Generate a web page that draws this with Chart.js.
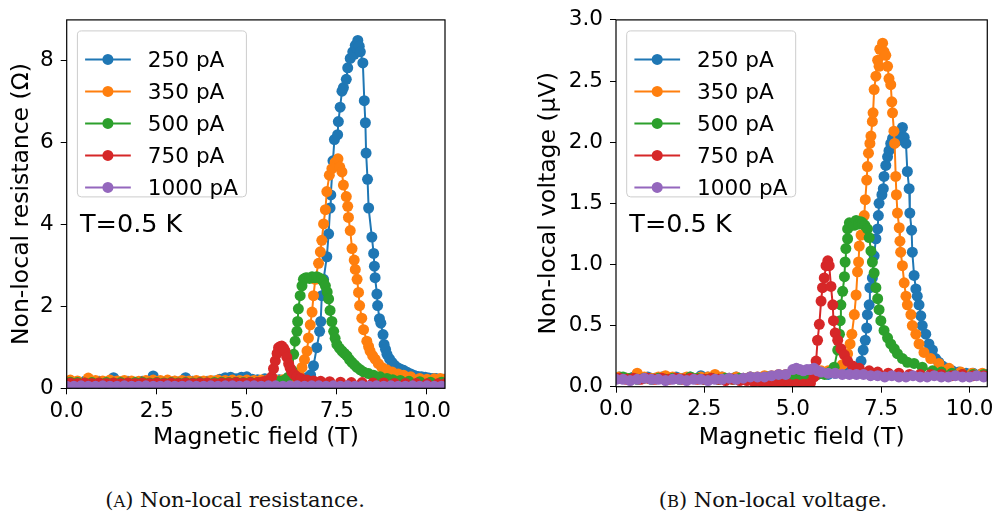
<!DOCTYPE html>
<html lang="en">
<head>
  <meta charset="UTF-8" />
  <title>Non-local resistance and voltage</title>
  <script src="https://cdn.jsdelivr.net/npm/chart.js"></script>
  <style>
    body {
      margin: 0;
      padding: 0;
      background: #ffffff;
    }

    #wrap {
      position: relative;
      width: 998px;
      height: 515px;
      background: #ffffff;
      overflow: hidden;
    }

    canvas {
      position: absolute;
      top: 0;
    }

    .caption {
      position: absolute;
      top: 490px;
      width: 400px;
      text-align: center;
      font-family: 'DejaVu Serif', serif;
      font-size: 21px;
      line-height: 21px;
      color: #111;
    }

    .caption small {
      font-size: 0.78em;
    }
  </style>
</head>
<body>
  <div id="wrap">
    <canvas id="resChart" width="470" height="460" style="left:0px"></canvas>
    <canvas id="voltChart" width="468" height="460" style="left:530px"></canvas>
    <div class="caption" style="left:35px">(<small>A</small>) Non-local resistance.</div>
    <div class="caption" style="left:573px">(<small>B</small>) Non-local voltage.</div>
  </div>

  <script>
  // tick labels and legend labels
  const fieldTicks = [0, 2.5, 5, 7.5, 10];
  const resTicks = [0, 2, 4, 6, 8];
  const voltTicks = [0, 0.5, 1, 1.5, 2, 2.5, 3];
  const currents = ['250 pA', '350 pA', '500 pA', '750 pA', '1000 pA'];
  const colors = ['#1f77b4', '#ff7f0e', '#2ca02c', '#d62728', '#9467bd'];

  // (A) non-local resistance, [field T, resistance Ohm]
  const res250 = [
    [0.1,0.17],[0.3,0.15],[0.5,0.17],[0.7,0.16],[0.9,0.17],[1.1,0.15],[1.3,0.26],[1.5,0.16],[1.7,0.17],[1.9,0.15],
    [2.1,0.17],[2.25,0.16],[2.4,0.3],[2.6,0.17],[2.8,0.16],[3.0,0.17],[3.15,0.16],[3.3,0.26],[3.5,0.17],[3.7,0.16],
    [3.9,0.17],[4.1,0.18],[4.25,0.22],[4.4,0.26],[4.55,0.27],[4.7,0.23],[4.85,0.27],[5.0,0.28],[5.15,0.22],[5.3,0.21],
    [5.5,0.23],[5.7,0.25],[5.9,0.21],[6.1,0.22],[6.3,0.21],[6.5,0.23],[6.65,0.26],[6.77,0.33],
    [6.85,0.55],[6.94,0.99],[7.02,1.39],[7.05,1.63],[7.08,2.26],[7.13,2.66],[7.22,3.21],[7.27,3.77],[7.31,4.4],[7.33,4.72],
    [7.39,5.55],[7.43,6.07],[7.52,6.19],[7.54,6.51],[7.59,6.86],[7.64,7.25],[7.68,7.34],[7.76,7.54],[7.8,7.82],[7.87,8.05],
    [7.94,8.21],[7.98,8.15],[8.01,8.37],[8.05,8.3],[8.08,8.49],[8.12,8.35],[8.15,8.21],[8.22,7.94],[8.26,7.02],[8.29,6.48],
    [8.31,5.74],[8.35,5.1],[8.38,4.4],[8.47,3.69],[8.52,3.29],[8.54,2.98],[8.56,2.7],[8.61,2.3],[8.63,2.02],[8.68,1.7],
    [8.72,1.59],[8.78,1.31],[8.81,1.07],[8.85,0.95],[8.89,0.83],[8.96,0.72],[9.03,0.63],[9.1,0.56],[9.17,0.51],[9.26,0.47],
    [9.35,0.44],[9.45,0.39],[9.55,0.35],[9.65,0.31],[9.75,0.29],[9.85,0.28],[9.95,0.27],[10.05,0.25],[10.15,0.24],
    [10.25,0.24],[10.35,0.22],[10.45,0.22]
  ];
  const res350 = [
    [0.1,0.2],[0.3,0.18],[0.6,0.25],[0.8,0.19],[1.0,0.18],[1.2,0.2],[1.4,0.18],[1.6,0.19],[1.8,0.18],[2.0,0.17],
    [2.2,0.19],[2.4,0.2],[2.6,0.19],[2.8,0.2],[3.0,0.18],[3.2,0.19],[3.4,0.18],[3.6,0.19],[3.8,0.18],[4.0,0.19],
    [4.2,0.2],[4.4,0.19],[4.6,0.2],[4.8,0.19],[5.0,0.2],[5.2,0.19],[5.4,0.2],[5.6,0.21],[5.8,0.2],[6.0,0.21],
    [6.2,0.23],[6.35,0.27],[6.45,0.33],
    [6.53,0.51],[6.6,0.7],[6.67,0.91],[6.71,1.23],[6.76,1.55],[6.81,1.86],[6.85,2.26],[6.9,2.66],[6.99,3.05],[7.04,3.33],
    [7.08,3.61],[7.13,4.01],[7.18,4.36],[7.22,4.8],[7.29,5.2],[7.36,5.36],[7.45,5.51],[7.5,5.45],[7.53,5.6],[7.58,5.4],
    [7.64,5.28],[7.68,4.96],[7.76,4.68],[7.8,4.44],[7.82,4.17],[7.87,3.85],[7.92,3.41],[7.98,3.13],[8.01,2.9],[8.06,2.66],
    [8.1,2.34],[8.13,2.02],[8.19,1.71],[8.24,1.43],[8.33,1.15],[8.38,1.02],[8.42,0.91],[8.49,0.8],[8.56,0.71],[8.65,0.6],
    [8.75,0.51],[8.88,0.45],[9.03,0.4],[9.2,0.35],[9.35,0.32],[9.55,0.28],[9.8,0.24],[10.0,0.22],[10.2,0.23],
    [10.37,0.24],[10.5,0.22]
  ];
  const res500 = [
    [0.1,0.15],[0.3,0.14],[0.5,0.13],[0.7,0.14],[0.9,0.13],[1.1,0.14],[1.3,0.13],[1.5,0.14],[1.7,0.13],[1.9,0.14],
    [2.1,0.15],[2.3,0.13],[2.5,0.14],[2.7,0.13],[2.9,0.14],[3.1,0.13],[3.3,0.14],[3.5,0.13],[3.7,0.14],[3.9,0.13],
    [4.1,0.14],[4.3,0.15],[4.5,0.14],[4.7,0.15],[4.9,0.14],[5.1,0.15],[5.3,0.14],[5.5,0.16],[5.7,0.15],[5.9,0.17],
    [6.05,0.2],[6.15,0.27],
    [6.25,0.44],[6.3,0.83],[6.34,1.15],[6.39,1.39],[6.41,1.63],[6.43,1.94],[6.48,2.26],[6.53,2.5],[6.57,2.66],[6.62,2.69],
    [6.67,2.7],[6.74,2.68],[6.81,2.72],[6.88,2.7],[6.94,2.72],[7.0,2.7],[7.08,2.66],[7.13,2.6],[7.18,2.5],[7.23,2.35],
    [7.27,2.18],[7.31,1.9],[7.36,1.63],[7.41,1.39],[7.45,1.22],[7.5,1.07],[7.57,0.98],[7.64,0.91],[7.71,0.85],[7.78,0.79],
    [7.85,0.7],[7.92,0.63],[7.99,0.57],[8.06,0.51],[8.15,0.45],[8.24,0.4],[8.38,0.36],[8.52,0.32],[8.7,0.28],[8.89,0.24],
    [9.05,0.21],[9.26,0.19],[9.5,0.17],[9.8,0.16],[10.1,0.15],[10.4,0.15]
  ];
  const res750 = [
    [0.1,0.13],[0.3,0.12],[0.5,0.13],[0.7,0.12],[0.9,0.13],[1.1,0.12],[1.3,0.13],[1.5,0.12],[1.7,0.13],[1.9,0.12],
    [2.1,0.13],[2.3,0.12],[2.5,0.13],[2.7,0.12],[2.9,0.13],[3.1,0.12],[3.3,0.13],[3.5,0.12],[3.7,0.13],[3.9,0.13],
    [4.1,0.12],[4.3,0.13],[4.5,0.13],[4.7,0.14],[4.9,0.13],[5.1,0.14],[5.3,0.14],[5.45,0.16],[5.58,0.19],
    [5.69,0.28],[5.74,0.48],[5.79,0.67],[5.84,0.85],[5.88,0.99],[5.93,1.02],[5.97,1.03],[6.02,0.98],[6.06,0.91],[6.11,0.76],
    [6.16,0.6],[6.2,0.5],[6.25,0.4],[6.32,0.33],[6.39,0.28],[6.5,0.24],[6.67,0.2],[6.85,0.18],[7.05,0.17],[7.3,0.16],
    [7.6,0.15],[7.9,0.14],[8.2,0.14],[8.5,0.13],[8.8,0.13],[9.1,0.12],[9.4,0.12],[9.7,0.12],[10.0,0.11],[10.3,0.11],
    [10.5,0.11]
  ];
  const res1000 = [
    [0.0,0.05],[0.2,0.05],[0.4,0.06],[0.6,0.05],[0.8,0.05],[1.0,0.06],[1.2,0.05],[1.4,0.05],[1.6,0.06],[1.8,0.05],
    [2.0,0.05],[2.2,0.06],[2.4,0.05],[2.6,0.05],[2.8,0.06],[3.0,0.05],[3.2,0.05],[3.4,0.06],[3.6,0.05],[3.8,0.05],
    [4.0,0.06],[4.2,0.05],[4.4,0.06],[4.6,0.06],[4.8,0.05],[5.0,0.06],[5.2,0.06],[5.4,0.05],[5.6,0.06],[5.8,0.06],
    [6.0,0.05],[6.2,0.06],[6.4,0.06],[6.6,0.05],[6.8,0.06],[7.0,0.06],[7.2,0.05],[7.4,0.06],[7.6,0.05],[7.8,0.06],
    [8.0,0.05],[8.2,0.06],[8.4,0.05],[8.6,0.06],[8.8,0.05],[9.0,0.06],[9.2,0.05],[9.4,0.05],[9.6,0.06],[9.8,0.05],
    [10.0,0.06],[10.2,0.05],[10.4,0.05]
  ];

  // (B) non-local voltage, [field T, voltage uV]
  const volt250 = [
    [0.1,0.08],[0.3,0.07],[0.5,0.08],[0.7,0.07],[0.9,0.08],[1.1,0.07],[1.3,0.08],[1.5,0.07],[1.7,0.08],[1.9,0.07],
    [2.1,0.08],[2.4,0.09],[2.6,0.08],[2.8,0.07],[3.0,0.08],[3.2,0.07],[3.4,0.08],[3.6,0.07],[3.8,0.08],[4.0,0.07],
    [4.2,0.08],[4.4,0.08],[4.6,0.09],[4.8,0.08],[5.0,0.09],[5.2,0.1],[5.4,0.1],[5.6,0.1],[5.8,0.11],[6.0,0.1],
    [6.2,0.11],[6.4,0.11],[6.6,0.12],[6.8,0.15],
    [6.93,0.21],[6.99,0.3],[7.05,0.38],[7.09,0.48],[7.11,0.59],[7.16,0.67],[7.18,0.81],[7.25,0.89],[7.3,1.07],[7.35,1.21],
    [7.4,1.29],[7.42,1.4],[7.44,1.5],[7.52,1.57],[7.56,1.62],[7.58,1.72],[7.63,1.81],[7.68,1.88],[7.72,1.93],[7.77,1.99],
    [7.82,2.03],[7.91,2.05],[7.96,2.01],[8.01,2.08],[8.06,2.05],[8.1,2.12],[8.15,2.04],[8.2,1.99],[8.24,1.76],[8.29,1.62],
    [8.31,1.42],[8.36,1.28],[8.38,1.1],[8.43,0.91],[8.48,0.8],[8.52,0.74],[8.57,0.67],[8.62,0.58],[8.66,0.5],[8.76,0.43],
    [8.85,0.35],[8.95,0.3],[9.04,0.23],[9.13,0.2],[9.23,0.17],[9.37,0.15],[9.51,0.13],[9.7,0.12],[9.9,0.11],[10.1,0.11],
    [10.3,0.1],[10.5,0.1]
  ];
  const volt350 = [
    [0.1,0.08],[0.3,0.07],[0.6,0.11],[0.8,0.08],[1.0,0.07],[1.2,0.08],[1.4,0.09],[1.6,0.08],[1.8,0.07],[2.0,0.08],
    [2.2,0.07],[2.4,0.08],[2.6,0.08],[2.8,0.1],[3.0,0.08],[3.2,0.07],[3.4,0.08],[3.6,0.07],[3.8,0.08],[4.0,0.08],
    [4.2,0.09],[4.4,0.09],[4.6,0.1],[4.8,0.1],[5.0,0.11],[5.2,0.11],[5.4,0.12],[5.6,0.12],[5.8,0.13],[6.0,0.13],
    [6.2,0.14],[6.4,0.18],
    [6.55,0.27],[6.62,0.35],[6.67,0.43],[6.74,0.59],[6.79,0.75],[6.83,0.94],[6.86,1.02],[6.88,1.15],[6.93,1.24],[7.02,1.4],
    [7.05,1.53],[7.09,1.69],[7.11,1.8],[7.14,1.91],[7.18,1.99],[7.21,2.05],[7.25,2.17],[7.27,2.24],[7.3,2.43],[7.35,2.54],
    [7.4,2.67],[7.44,2.62],[7.46,2.76],[7.54,2.81],[7.58,2.74],[7.63,2.71],[7.68,2.62],[7.72,2.52],[7.77,2.47],[7.8,2.33],
    [7.82,2.24],[7.86,2.09],[7.88,1.99],[7.91,1.72],[7.93,1.57],[7.96,1.42],[8.01,1.3],[8.03,1.19],[8.05,1.1],[8.1,0.99],
    [8.15,0.85],[8.2,0.74],[8.24,0.67],[8.34,0.59],[8.38,0.5],[8.48,0.43],[8.57,0.35],[8.71,0.28],[8.9,0.23],[9.13,0.19],
    [9.42,0.15],[9.75,0.12],[10.07,0.11],[10.36,0.11]
  ];
  const volt500 = [
    [0.2,0.08],[0.4,0.07],[0.6,0.06],[0.8,0.07],[1.0,0.06],[1.2,0.07],[1.4,0.06],[1.6,0.07],[1.8,0.06],[2.1,0.08],
    [2.3,0.07],[2.5,0.06],[2.7,0.07],[2.9,0.06],[3.1,0.07],[3.3,0.06],[3.5,0.07],[3.7,0.06],[3.9,0.07],[4.1,0.07],
    [4.3,0.08],[4.5,0.08],[4.7,0.07],[4.9,0.08],[5.1,0.08],[5.3,0.09],[5.5,0.09],[5.7,0.1],[5.9,0.1],[6.05,0.12],
    [6.17,0.16],[6.27,0.3],[6.32,0.43],[6.34,0.54],[6.36,0.67],[6.41,0.78],[6.46,0.9],[6.48,1.02],[6.5,1.13],[6.55,1.21],
    [6.55,1.29],[6.6,1.34],[6.68,1.33],[6.73,1.32],[6.79,1.36],[6.86,1.33],[6.92,1.35],[6.97,1.34],[7.04,1.32],[7.11,1.29],
    [7.16,1.22],[7.21,1.11],[7.25,1.02],[7.3,0.93],[7.35,0.81],[7.4,0.72],[7.44,0.63],[7.49,0.54],[7.58,0.46],[7.68,0.4],
    [7.77,0.35],[7.87,0.31],[7.96,0.27],[8.1,0.23],[8.24,0.2],[8.43,0.19],[8.66,0.16],[8.95,0.13],[9.2,0.12],[9.5,0.11],
    [9.8,0.1],[10.1,0.1],[10.4,0.1]
  ];
  const volt750 = [
    [0.1,0.07],[0.3,0.06],[0.5,0.07],[0.7,0.06],[0.9,0.07],[1.1,0.06],[1.3,0.07],[1.5,0.06],[1.7,0.07],[1.9,0.06],
    [2.1,0.07],[2.3,0.06],[2.5,0.06],[2.7,0.07],[2.9,0.06],[3.1,0.05],[3.3,0.06],[3.5,0.05],[3.7,0.05],[3.9,0.04],
    [4.1,0.04],[4.3,0.03],[4.5,0.02],[4.7,0.02],[4.9,0.02],[5.1,0.02],[5.3,0.02],[5.5,0.03],[5.6,0.08],
    [5.66,0.21],[5.7,0.38],[5.75,0.51],[5.8,0.7],[5.84,0.81],[5.89,0.89],[5.94,0.99],[5.99,1.03],[6.03,0.99],[6.08,0.82],
    [6.13,0.67],[6.15,0.54],[6.2,0.44],[6.27,0.38],[6.36,0.31],[6.46,0.26],[6.55,0.21],[6.69,0.17],[6.88,0.15],[7.16,0.13],
    [7.4,0.12],[7.7,0.11],[8.0,0.11],[8.3,0.1],[8.6,0.1],[8.9,0.1],[9.2,0.1],[9.5,0.09],[9.8,0.1],[10.1,0.09],[10.4,0.09]
  ];
  const volt1000 = [
    [0.0,0.06],[0.2,0.06],[0.4,0.05],[0.6,0.06],[0.8,0.07],[1.0,0.06],[1.2,0.06],[1.4,0.05],[1.6,0.06],[1.8,0.06],
    [2.0,0.05],[2.2,0.06],[2.4,0.06],[2.6,0.05],[2.8,0.06],[3.0,0.06],[3.2,0.07],[3.4,0.06],[3.6,0.07],[3.8,0.08],
    [4.0,0.08],[4.2,0.08],[4.4,0.09],[4.6,0.1],[4.8,0.1],[5.0,0.14],[5.1,0.15],[5.2,0.14],[5.3,0.13],[5.4,0.14],
    [5.5,0.14],[5.6,0.15],[5.7,0.13],[5.8,0.12],[6.0,0.11],[6.2,0.11],[6.4,0.1],[6.6,0.1],[6.8,0.1],[7.0,0.1],
    [7.2,0.09],[7.4,0.09],[7.6,0.08],[7.8,0.09],[8.0,0.08],[8.2,0.08],[8.4,0.09],[8.6,0.08],[8.8,0.08],[9.0,0.09],
    [9.2,0.08],[9.4,0.08],[9.6,0.09],[9.8,0.08],[10.0,0.08],[10.2,0.09],[10.4,0.08]
  ];

  Chart.defaults.font.family = "'DejaVu Sans', sans-serif";
  Chart.defaults.color = '#000';

  function makeDatasets(list) {
    return list.map((pts, i) => ({
      label: currents[i],
      data: pts.map(p => ({ x: p[0], y: p[1] })),
      borderColor: colors[i],
      backgroundColor: colors[i],
      showLine: true,
      borderWidth: 2,
      pointRadius: 5.5,
      pointHoverRadius: 5.5,
      pointBorderWidth: 0,
      order: list.length - i   // last series on top, like matplotlib
    }));
  }

  // axes frame, legend box and the T=0.5 K note
  const decorations = {
    id: 'decorations',
    afterDatasetsDraw(chart) {
      const { ctx, chartArea: a } = chart;
      ctx.save();

      const bx = a.left + 10.7, by = a.top + 11;
      ctx.fillStyle = 'rgba(255,255,255,0.8)';
      ctx.strokeStyle = '#cccccc';
      ctx.lineWidth = 1;
      ctx.beginPath();
      ctx.roundRect(bx, by, 169, 166, 4);
      ctx.fill();
      ctx.stroke();

      ctx.font = "21.6px 'DejaVu Sans'";
      ctx.textBaseline = 'alphabetic';
      chart.data.datasets.forEach((ds, i) => {
        const y = by + 28.5 + i * 32;
        ctx.strokeStyle = ds.borderColor;
        ctx.lineWidth = 2;
        ctx.beginPath();
        ctx.moveTo(bx + 7.7, y);
        ctx.lineTo(bx + 53.4, y);
        ctx.stroke();
        ctx.fillStyle = ds.backgroundColor;
        ctx.beginPath();
        ctx.arc(bx + 30.5, y, 5.5, 0, Math.PI * 2);
        ctx.fill();
        ctx.fillStyle = '#000';
        ctx.fillText(ds.label, bx + 70.4, y + 7.8);
      });

      ctx.font = "25.5px 'DejaVu Sans'";
      ctx.fillStyle = '#000';
      ctx.fillText('T=0.5 K', a.left + 13.3, a.top + 212);

      ctx.strokeStyle = '#000';
      ctx.lineWidth = 1.2;
      ctx.strokeRect(a.left, a.top, a.right - a.left, a.bottom - a.top);
      ctx.restore();
    }
  };

  function makeChart(id, list, yTicks, yMax, yLabel, yFmt, box) {
    return new Chart(document.getElementById(id), {
      type: 'scatter',
      data: { datasets: makeDatasets(list) },
      options: {
        responsive: false,
        animation: false,
        layout: { padding: { top: box.top, right: box.right, left: 0, bottom: 0 } },
        plugins: { legend: { display: false }, tooltip: { enabled: false } },
        scales: {
          x: {
            type: 'linear',
            min: 0,
            max: 10.5,
            afterFit: s => { s.height = box.xHeight; },
            afterBuildTicks: s => { s.ticks = fieldTicks.map(v => ({ value: v })); },
            ticks: { autoSkip: false, maxRotation: 0, padding: 4, font: { size: 21.5 }, callback: v => v.toFixed(1) },
            grid: { drawOnChartArea: false, drawTicks: true, tickLength: 6, color: '#000', lineWidth: 1 },
            border: { display: false },
            title: { display: true, text: 'Magnetic field (T)', font: { size: 23.5 }, padding: { top: 0, bottom: 8.4 } }
          },
          y: {
            type: 'linear',
            min: 0,
            max: yMax,
            afterFit: s => { s.width = box.yWidth; },
            afterBuildTicks: s => { s.ticks = yTicks.map(v => ({ value: v })); },
            ticks: { autoSkip: false, padding: 7, font: { size: 21.5 }, callback: yFmt },
            grid: { drawOnChartArea: false, drawTicks: true, tickLength: 6, color: '#000', lineWidth: 1 },
            border: { display: false },
            title: { display: true, text: yLabel, font: { size: 23.5 }, padding: { top: box.titlePad, bottom: 0 } }
          }
        }
      },
      plugins: [decorations]
    });
  }

  makeChart('resChart', [res250, res350, res500, res750, res1000], resTicks, 8.99,
    'Non-local resistance (Ω)', v => String(v),
    { top: 10.7, right: 25, xHeight: 71.7, yWidth: 66.7, titlePad: 7.6 });

  makeChart('voltChart', [volt250, volt350, volt500, volt750, volt1000], voltTicks, 3.0,
    'Non-local voltage (μV)', v => v.toFixed(1),
    { top: 14, right: 9.7, xHeight: 73.3, yWidth: 86, titlePad: 4.9 });
  </script>
</body>
</html>
